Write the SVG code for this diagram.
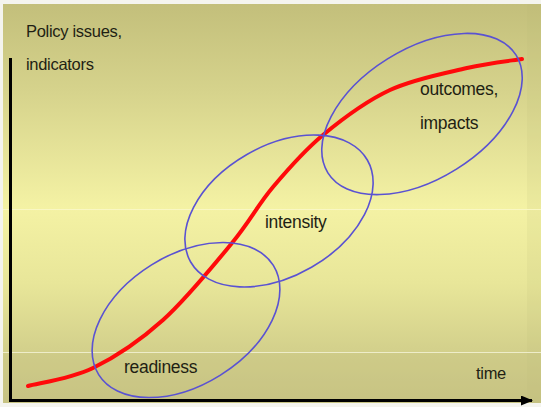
<svg xmlns="http://www.w3.org/2000/svg" width="541" height="407" viewBox="0 0 541 407">
  <defs>
    <linearGradient id="bg" x1="0" y1="0" x2="0" y2="1">
      <stop offset="0" stop-color="#c3bf7b"/>
      <stop offset="0.22" stop-color="#d6d38c"/>
      <stop offset="0.51" stop-color="#f4f2a4"/>
      <stop offset="0.7" stop-color="#e8e699"/>
      <stop offset="0.86" stop-color="#d4d18c"/>
      <stop offset="1" stop-color="#c8c484"/>
    </linearGradient>
    <marker id="arrow" viewBox="0 0 12 10" refX="11" refY="5" markerWidth="12" markerHeight="10" markerUnits="userSpaceOnUse" orient="auto">
      <path d="M0,0 L12,5 L0,10 Z" fill="#000"/>
    </marker>
  </defs>
  <style>
    .lbl { font-family: "Liberation Sans", Arial, sans-serif; fill: #1f1f14; letter-spacing: -0.3px; }
    .big { font-size: 17.5px; }
    .small { font-size: 16.5px; }
    .zone { fill: none; stroke: #5a52d2; stroke-width: 1.6; }
    .axis { stroke: #000; stroke-width: 3; fill: none; }
  </style>

  <rect x="0" y="0" width="541" height="407" fill="#f4f4ee"/>
  <rect x="3" y="4" width="538" height="399" fill="url(#bg)"/>
  <rect x="527" y="4" width="14" height="399" fill="#b8b470" opacity="0.12"/>
  <line x1="3" y1="209.5" x2="541" y2="209.5" stroke="#f9f7c4" stroke-width="1.2"/>
  <line x1="3" y1="352.5" x2="541" y2="352.5" stroke="#eeedc9" stroke-width="1.2"/>
  <rect x="3" y="353" width="538" height="50" fill="#c4c07e" opacity="0.25"/>

  <g id="axes">
    <line class="axis" x1="10.5" y1="58" x2="10.5" y2="401.5"/>
    <line class="axis" x1="9" y1="400.5" x2="532" y2="400.5" marker-end="url(#arrow)"/>
    <text class="lbl small" x="26" y="37">Policy issues,</text>
    <text class="lbl small" x="26" y="70">indicators</text>
    <text class="lbl small" x="476" y="379">time</text>
  </g>

  <g id="connectors">
    <path d="M28,386 C38.8,383 70.5,379 93,368 C115.5,357 139.8,340.8 163,320 C186.2,299.2 213.7,265.2 232,243 C250.3,220.8 257.8,205 273,187 C288.2,169 303.5,151.2 323,135 C342.5,118.8 366,101.2 390,90 C414,78.8 445,73.2 467,68 C489,62.8 512.8,60.5 522,59" fill="none" stroke="#ff0a0a" stroke-width="4" stroke-linecap="round"/>
  </g>

  <g id="readiness">
    <ellipse class="zone" cx="186" cy="320" rx="103" ry="65" transform="rotate(-32 186 320)"/>
    <text class="lbl big" x="124" y="373">readiness</text>
  </g>

  <g id="intensity">
    <ellipse class="zone" cx="279" cy="211" rx="102" ry="65" transform="rotate(-30 279 211)"/>
    <text class="lbl big" x="265" y="228">intensity</text>
  </g>

  <g id="outcomes">
    <ellipse class="zone" cx="422" cy="114" rx="111" ry="65" transform="rotate(-32 422 114)"/>
    <text class="lbl big" x="420" y="95">outcomes,</text>
    <text class="lbl big" x="420" y="129">impacts</text>
  </g>
</svg>
